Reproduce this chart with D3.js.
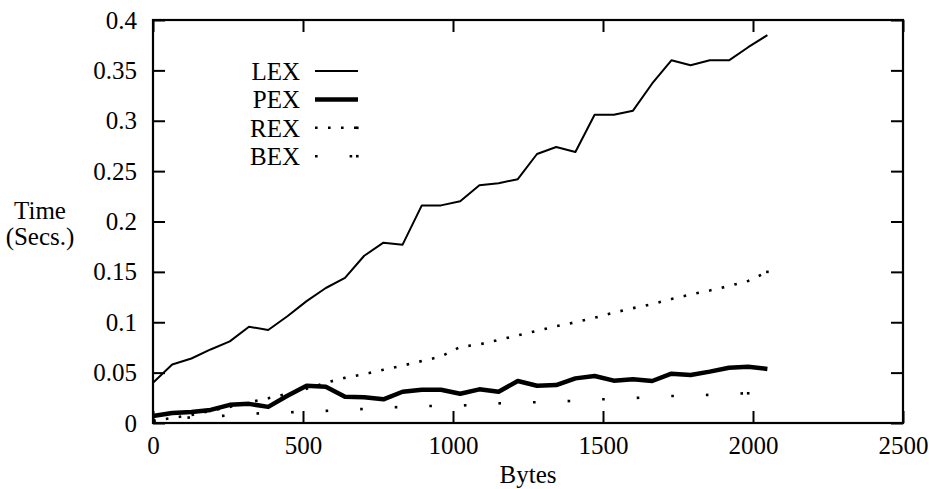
<!DOCTYPE html>
<html><head><meta charset="utf-8">
<script src="https://cdn.jsdelivr.net/npm/d3@7"></script>
<style>
body{margin:0;background:#fff}
text{font-family:"Liberation Serif","DejaVu Serif",serif;fill:#000}
</style>
</head><body><svg id="c" width="929" height="489"></svg>
<script>
const bytes = [0,64,128,192,256,320,384,448,512,576,640,704,768,832,896,960,1024,1088,1152,1216,1280,1344,1408,1472,1536,1600,1664,1728,1792,1856,1920,1984,2048];
const lex = [0.040,0.058,0.064,0.073,0.081,0.0956,0.0923,0.106,0.121,0.134,0.144,0.166,0.179,0.177,0.216,0.216,0.220,0.236,0.238,0.242,0.267,0.274,0.269,0.306,0.306,0.310,0.337,0.360,0.355,0.360,0.360,0.373,0.385];
const pex = [0.007,0.010,0.011,0.013,0.018,0.019,0.016,0.027,0.037,0.036,0.026,0.0255,0.0235,0.031,0.033,0.033,0.029,0.0334,0.031,0.0417,0.037,0.0377,0.0443,0.0467,0.042,0.0434,0.0417,0.049,0.0476,0.051,0.0549,0.0559,0.0536];
const rex = [0.002,0.005,0.008,0.012,0.016,0.0205,0.0245,0.029,0.034,0.040,0.0448,0.0485,0.0528,0.057,0.0615,0.066,0.0755,0.078,0.0825,0.087,0.0915,0.096,0.100,0.1045,0.1095,0.114,0.118,0.123,0.1275,0.1315,0.136,0.141,0.150];
const bex = [0.002,0.0045,0.0055,0.0065,0.0075,0.009,0.010,0.0105,0.0115,0.012,0.013,0.014,0.015,0.016,0.0167,0.017,0.0172,0.0185,0.0195,0.020,0.0207,0.0213,0.022,0.0232,0.024,0.0247,0.0258,0.0268,0.0273,0.028,0.029,0.0295];
const seriesNames = ["LEX","PEX","REX","BEX"];
const xTicks = [0,500,1000,1500,2000,2500];
const yTicks = [0,0.05,0.1,0.15,0.2,0.25,0.3,0.35,0.4];
const yTickLabels = ["0","0.05","0.1","0.15","0.2","0.25","0.3","0.35","0.4"];

const W = 929, H = 489;
const m = {l:153, r:26, t:20, b:66};
const svg = d3.select("#c");
const x = d3.scaleLinear().domain([0,2500]).range([m.l, W-m.r]);
const y = d3.scaleLinear().domain([0,0.4]).range([H-m.b, m.t]);
const fs = 25;

function styleAxis(g){
  g.select(".domain").remove();
  g.selectAll(".tick line").attr("stroke","#000").attr("stroke-width",2);
  g.selectAll(".tick text").attr("font-size",fs).attr("font-family","Liberation Serif, serif");
}
svg.append("g").attr("transform",`translate(${m.l},0)`)
  .call(d3.axisLeft(y).tickValues(yTicks).tickFormat((d,i)=>yTickLabels[i]).tickSize(-12).tickPadding(16)).call(styleAxis);
svg.append("g").attr("transform",`translate(${W-m.r},0)`)
  .call(d3.axisRight(y).tickValues(yTicks).tickFormat("").tickSize(-12)).call(styleAxis);
svg.append("g").attr("transform",`translate(0,${H-m.b})`)
  .call(d3.axisBottom(x).tickValues(xTicks).tickFormat(d3.format("d")).tickSize(-12).tickPadding(13)).call(styleAxis);
svg.append("g").attr("transform",`translate(0,${m.t})`)
  .call(d3.axisTop(x).tickValues(xTicks).tickFormat("").tickSize(-12)).call(styleAxis);

svg.append("rect").attr("x",m.l).attr("y",m.t).attr("width",W-m.r-m.l).attr("height",H-m.b-m.t)
  .attr("fill","none").attr("stroke","#000").attr("stroke-width",2.2);

const styles = {
  LEX:{w:2, dash:null},
  PEX:{w:4.5, dash:null},
  REX:{w:2.6, dash:"2.6,10.4"},
  BEX:{w:2.6, dash:"2.6,32"}
};
const data = {
  LEX: bytes.map((b,i)=>[b,lex[i]]),
  PEX: bytes.map((b,i)=>[b,pex[i]]),
  REX: bytes.map((b,i)=>[b,rex[i]]),
  BEX: bex.map((v,i)=>[bytes[i],v])
};
const line = d3.line().x(d=>x(d[0])).y(d=>y(d[1]));
seriesNames.forEach(n=>{
  const s = styles[n];
  const p = svg.append("path").datum(data[n]).attr("d",line).attr("fill","none")
    .attr("stroke","#000").attr("stroke-width",s.w).attr("stroke-linejoin","round");
  if(s.dash){
    p.attr("stroke-dasharray",s.dash);
    const last = data[n][data[n].length-1];
    svg.append("rect").attr("x",x(last[0])-1.3).attr("y",y(last[1])-1.3).attr("width",2.6).attr("height",2.6).attr("fill","#000");
  }
});

// legend
const lg = svg.append("g");
seriesNames.forEach((n,i)=>{
  const yy = 71 + i*28.4;
  lg.append("text").attr("x",300).attr("y",yy).attr("dy","0.35em").attr("text-anchor","end").attr("font-size",fs).text(n);
  const s = styles[n];
  const l = lg.append("line").attr("x1",315).attr("x2",358).attr("y1",yy).attr("y2",yy)
    .attr("stroke","#000").attr("stroke-width",s.w);
  if(s.dash){
    l.attr("stroke-dasharray",s.dash);
    lg.append("rect").attr("x",356).attr("y",yy-1.3).attr("width",2.6).attr("height",2.6).attr("fill","#000");
  }
});

svg.append("text").attr("x",40).attr("y",219).attr("text-anchor","middle").attr("font-size",fs).text("Time");
svg.append("text").attr("x",40).attr("y",245).attr("text-anchor","middle").attr("font-size",fs).text("(Secs.)");
svg.append("text").attr("x",(m.l+W-m.r)/2).attr("y",483).attr("text-anchor","middle").attr("font-size",fs).text("Bytes");
</script></body></html>
